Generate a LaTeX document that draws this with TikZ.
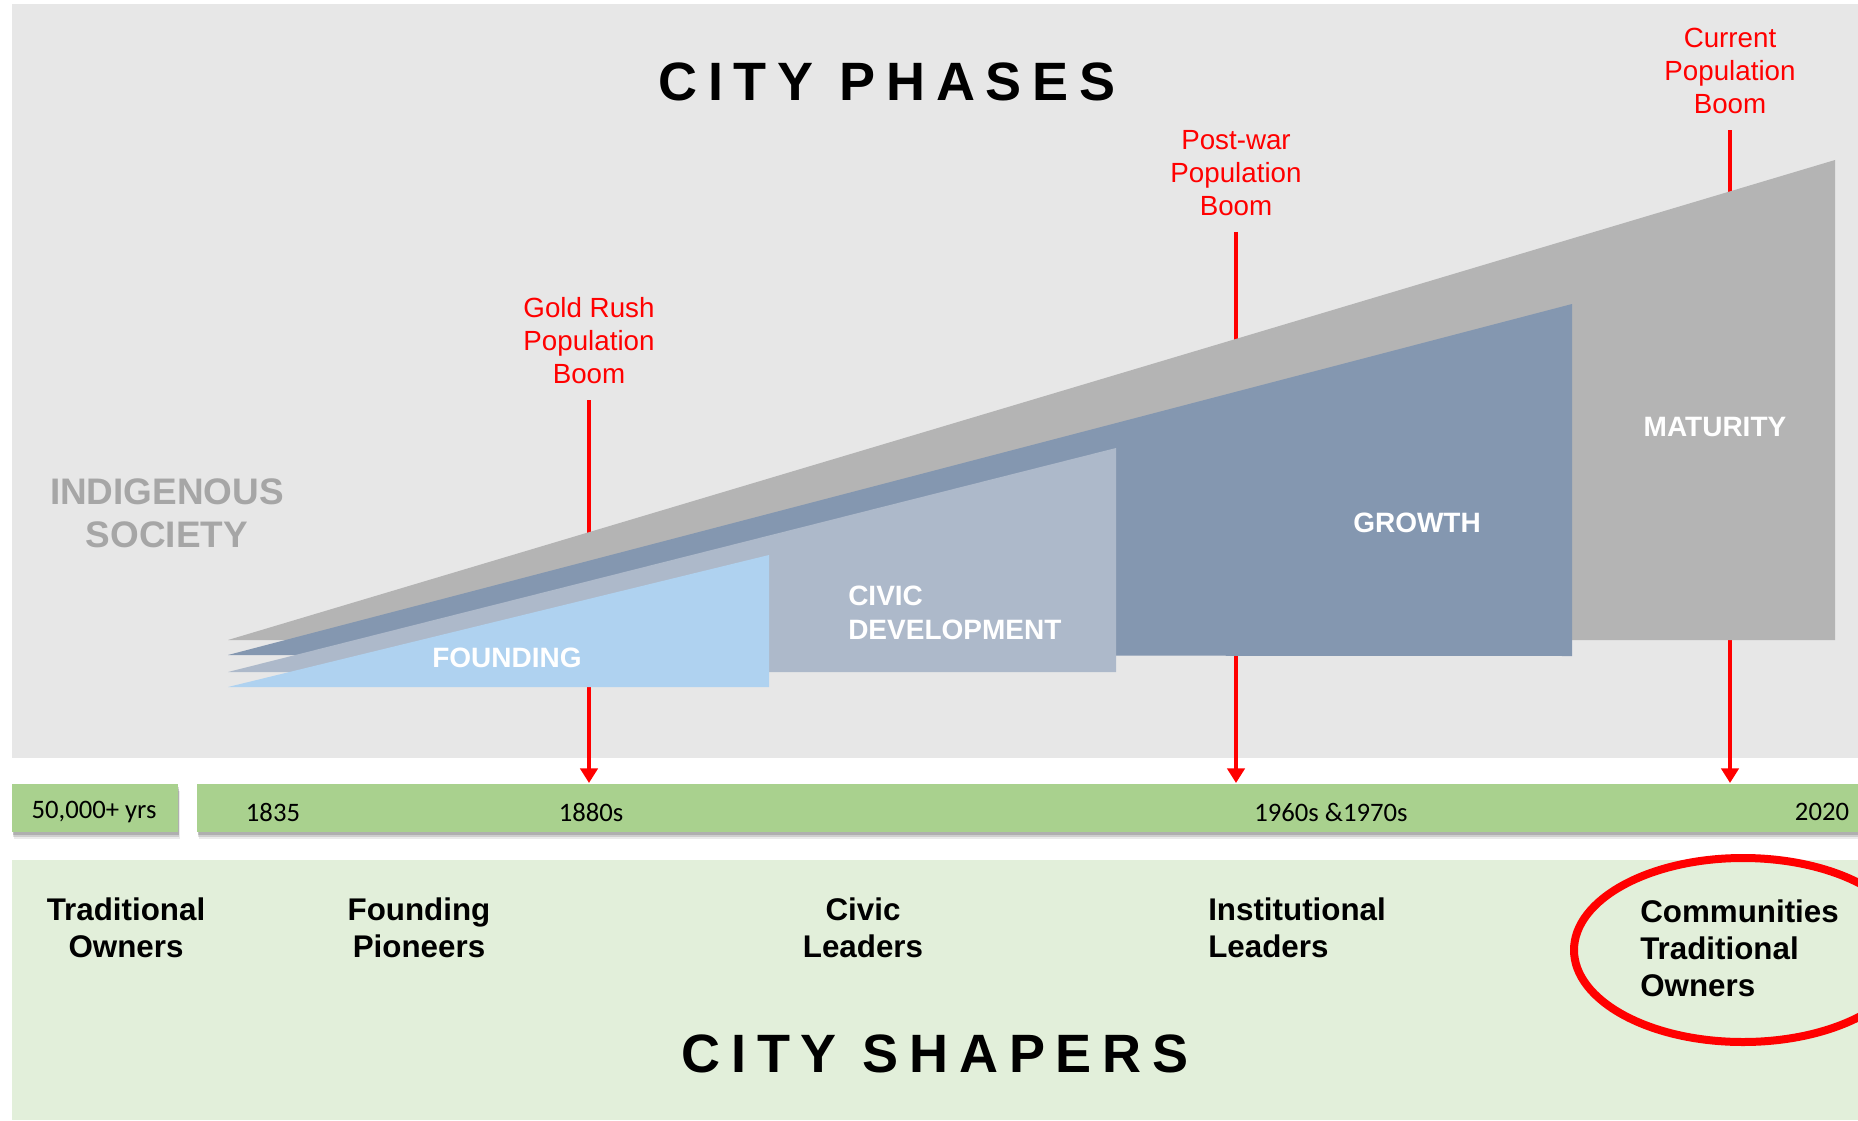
\documentclass[tikz,border=0pt]{standalone}
\usepackage{fontspec}
\setmainfont{Liberation Sans}
\newfontfamily\calibri{Carlito}
\newfontfamily\spacedfont[LetterSpace=20]{Liberation Sans}
\usetikzlibrary{arrows.meta,shadows}

\definecolor{panelgray}{RGB}{231,231,231}
\definecolor{shaperbg}{RGB}{226,239,218}
\definecolor{bargreen}{RGB}{169,209,142}
\definecolor{boomred}{RGB}{255,0,0}
\definecolor{maturitygray}{RGB}{180,180,180}
\definecolor{growthblue}{RGB}{132,151,176}
\definecolor{civicblue}{RGB}{173,185,202}
\definecolor{foundingblue}{RGB}{175,210,240}
\definecolor{indigray}{RGB}{166,166,166}

\begin{document}
\begin{tikzpicture}[
    x=0.75pt, y=-0.75pt,
    headline/.style={inner sep=0pt,font=\spacedfont\bfseries\fontsize{40.5}{48}\selectfont},
    boomtext/.style={text=boomred,align=center,inner sep=12pt,font=\fontsize{20.8}{24.75}\selectfont},
    phasetext/.style={text=white,inner sep=0pt,font=\bfseries\fontsize{21}{25.5}\selectfont},
    shapertext/.style={inner sep=0pt,font=\bfseries\fontsize{23.5}{27.75}\selectfont},
    yeartext/.style={inner sep=0pt,font=\calibri\fontsize{20}{24}\selectfont},
    timebar/.style={fill=bargreen,
      general shadow={shadow xshift=1.5pt,shadow yshift=-5pt,opacity=.08,fill=black},
      general shadow={shadow xshift=1pt,shadow yshift=-3.5pt,opacity=.12,fill=black},
      general shadow={shadow xshift=.5pt,shadow yshift=-2pt,opacity=.15,fill=black}},
    boomarrow/.style={draw=boomred,line width=2.6pt,-{Triangle[length=11pt,width=13pt]}}
    ]

    \useasboundingbox (0,0) rectangle (1858,1120);

    % panels
    \fill[panelgray] (12,4) rectangle (1858,758);
    \fill[shaperbg] (12,860) rectangle (1858,1120);
    \fill[timebar] (12,784) rectangle (178,832);
    \fill[timebar] (197,784) rectangle (1858,832);

    \node (phases) [headline] at (887,82) {CITY PHASES};
    \node (shapers) [headline] at (935,1054) {CITY SHAPERS};

    % booms
    \node (gold) [boomtext] at (589,341) {Gold Rush\\Population\\Boom};
    \node (postwar) [boomtext] at (1236,173) {Post-war\\Population\\Boom};
    \node (current) [boomtext] at (1730,71) {Current\\Population\\Boom};

    \coordinate (yr1880) at (589,783);
    \coordinate (yr1960) at (1236,783);
    \coordinate (yr2020) at (1730,783);

    \foreach \b/\y in {gold/yr1880,postwar/yr1960,current/yr2020}
      \draw[boomarrow] (\b) -- (\y);

    % phases
    \fill[maturitygray] (228,640) -- (1835,160) -- (1835,640) -- cycle;
    \fill[growthblue] (228,655) -- (1572,304) -- (1572,656) -- cycle;
    \fill[civicblue] (228,672) -- (1116,448) -- (1116,672) -- cycle;
    \fill[foundingblue] (228,687) -- (769,555) -- (769,687) -- cycle;

    \node (indig) [phasetext,text=indigray,align=center,font=\bfseries\fontsize{27.7}{32.25}\selectfont] at (167,513) {INDIGENOUS\\SOCIETY};
    \node (founding) [phasetext] at (507,658) {FOUNDING};
    \node (civic) [phasetext,anchor=west,align=left] at (848,613) {CIVIC\\DEVELOPMENT};
    \node (growth) [phasetext] at (1417,523) {GROWTH};
    \node (maturity) [phasetext] at (1715,427) {MATURITY};

    % timeline
    \node (y50k) [yeartext] at (94,812) {50,000+ yrs};
    \node (y1835) [yeartext] at (273,812) {1835};
    \node (y1880) [yeartext] at (591,812) {1880s};
    \node (y1960) [yeartext] at (1331,812) {1960s \&1970s};
    \node (y2020) [yeartext] at (1822,812) {2020};

    % shapers
    \node (tradown) [shapertext,align=center] at (126,928) {Traditional\\Owners};
    \node (pioneers) [shapertext,align=center] at (419,928) {Founding\\Pioneers};
    \node (civicl) [shapertext,align=center] at (863,928) {Civic\\Leaders};
    \node (instl) [shapertext,anchor=west,align=left] at (1208,928) {Institutional\\Leaders};
    \node (commun) [shapertext,anchor=west,align=left] at (1640,948) {Communities\\Traditional\\Owners};

    \draw[boomred,line width=6pt] (1743,950) ellipse [x radius=169,y radius=92];

  \end{tikzpicture}
\end{document}
